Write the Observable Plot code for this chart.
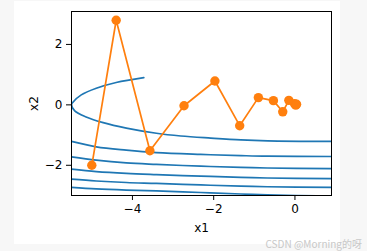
<!DOCTYPE html>
<html>
<head>
<meta charset="utf-8">
<script src="https://cdn.jsdelivr.net/npm/d3@7"></script>
<script src="https://cdn.jsdelivr.net/npm/@observablehq/plot@0.6"></script>
<style>
  html, body { margin: 0; padding: 0; background: #f7f7f7; width: 367px; height: 251px; overflow: hidden; }
  #chart { position: absolute; left: 14px; top: 1px; width: 326px; height: 243px; background: #ffffff; }
  #wm { position: absolute; right: 5px; top: 236px; font: 10px "Noto Sans CJK SC", "DejaVu Sans", sans-serif; color: #c8c8c8; white-space: nowrap; }
</style>
</head>
<body>
<div id="chart"></div>
<div id="wm">CSDN @Morning的呀</div>
<script>
// Gradient-descent trajectory
const traceX1 = [-5.0, -4.40, -3.57, -2.73, -1.97, -1.36, -0.90, -0.53, -0.30, -0.15, -0.01, 0.02, 0.04];
const traceX2 = [-2.0, 2.80, -1.52, -0.03, 0.79, -0.69, 0.24, 0.14, -0.23, 0.15, 0.04, -0.01, 0.02];

// Parabola-shaped contour (upper end cut at grid top)
const curveAX1 = [-3.72, -4.40, -4.89, -5.26, -5.47, -5.5, -5.42, -5.14, -4.72, -4.15, -3.41, -2.81, -2.07, -1.33, -0.67, 0.9];
const curveAX2 = [0.90, 0.74, 0.55, 0.33, 0.08, 0.0, -0.20, -0.40, -0.59, -0.77, -0.94, -1.03, -1.10, -1.16, -1.19, -1.21];

// Lower contour bands sampled at common x1 positions
const bandX1 = [-5.5, -4.89, -4.15, -3.41, -2.32, -1.33, -0.68, 0.9];
const bandB = [-1.21, -1.39, -1.50, -1.58, -1.64, -1.68, -1.70, -1.71];
const bandC = [-1.72, -1.83, -1.92, -1.97, -2.03, -2.07, -2.09, -2.11];
const bandD = [-2.13, -2.21, -2.27, -2.31, -2.36, -2.40, -2.42, -2.44];
const bandE = [-2.46, -2.52, -2.57, -2.60, -2.65, -2.69, -2.71, -2.73];
const bandF = [-2.73, -2.78, -2.82, -2.85, -2.90, -2.95, -2.98, -3.02];

const xTicks = [-4, -2, 0];
const yTicks = [-2, 0, 2];

const contourRows = [];
curveAX1.forEach((x, i) => contourRows.push({k: "A", x1: x, x2: curveAX2[i]}));
[["B", bandB], ["C", bandC], ["D", bandD], ["E", bandE], ["F", bandF]].forEach(([k, arr]) =>
  bandX1.forEach((x, i) => contourRows.push({k, x1: x, x2: arr[i]})));
const traceRows = traceX1.map((x, i) => ({x1: x, x2: traceX2[i]}));

const blue = "#1f77b4", orange = "#ff7f0e";
const fmt = d => d < 0 ? "\u2212" + Math.abs(d) : String(d);

const chart = Plot.plot({
  width: 326,
  height: 243,
  marginLeft: 57,
  marginRight: 9,
  marginTop: 10,
  marginBottom: 49,
  style: {fontFamily: "DejaVu Sans, sans-serif", fontSize: "12px", color: "#000", background: "transparent"},
  x: {domain: [-5.5, 0.9]},
  y: {domain: [-3, 3.09]},
  marks: [
    Plot.line(contourRows, {x: "x1", y: "x2", z: "k", stroke: blue, strokeWidth: 1.7, curve: "catmull-rom", clip: true}),
    Plot.line(traceRows, {x: "x1", y: "x2", stroke: orange, strokeWidth: 1.7}),
    Plot.dot(traceRows, {x: "x1", y: "x2", r: 4.7, fill: orange, stroke: null}),
    Plot.frame({stroke: "#000", strokeWidth: 1}),
    Plot.axisX({ticks: xTicks, tickFormat: fmt, tickSize: 5, tickPadding: 4, label: "x1", labelAnchor: "center", labelArrow: "none", labelOffset: 36, fontSize: 12}),
    Plot.axisY({ticks: yTicks, tickFormat: fmt, tickSize: 5, tickPadding: 4, label: "x2", labelAnchor: "center", labelArrow: "none", labelOffset: 42, fontSize: 12})
  ]
});
document.getElementById("chart").appendChild(chart);
</script>
</body>
</html>
